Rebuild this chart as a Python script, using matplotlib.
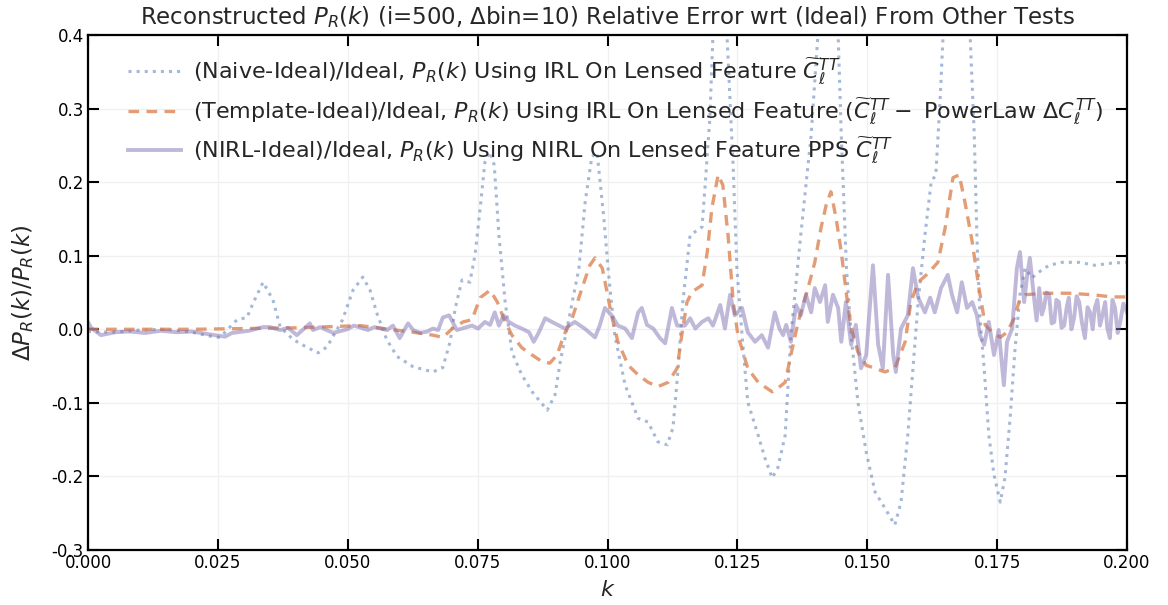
import matplotlib
matplotlib.use("Agg")
import matplotlib.pyplot as plt

# ---------------- data ----------------
naive_k = [0, 0.005, 0.010, 0.015, 0.020, 0.024, 0.0254, 0.0287, 0.0306, 0.0318, 0.0337, 0.0356, 0.037,
           0.0395, 0.042, 0.0443, 0.046, 0.049, 0.051, 0.0529, 0.0543, 0.0556, 0.0575, 0.0595, 0.0626,
           0.0664, 0.0683, 0.0697, 0.0707, 0.072, 0.0735, 0.0745, 0.0755, 0.0764, 0.0774, 0.0782, 0.0791,
           0.0803, 0.0816, 0.0835, 0.0855, 0.0884, 0.0899, 0.0909, 0.0926, 0.0945, 0.0957, 0.097, 0.098,
           0.0993, 0.1001, 0.1014, 0.1034, 0.1059, 0.1078, 0.1097, 0.1115, 0.1126, 0.1136, 0.1145, 0.1159,
           0.1182, 0.1188, 0.1197, 0.1203, 0.1217, 0.1230, 0.1242, 0.1249, 0.1259, 0.127, 0.129, 0.1303,
           0.1317, 0.1328, 0.1342, 0.1353, 0.1372, 0.1392, 0.1405, 0.1425, 0.1444, 0.145, 0.146, 0.1469,
           0.1482, 0.1498, 0.1515, 0.1534, 0.1553, 0.1565, 0.1578, 0.1588, 0.1598, 0.1611, 0.1623, 0.1632,
           0.164, 0.1646, 0.1672, 0.1698, 0.1706, 0.1711, 0.1717, 0.1725, 0.1734, 0.1744, 0.1756, 0.1765,
           0.1775, 0.1784, 0.1794, 0.1804, 0.1817, 0.1831, 0.185, 0.1875, 0.1908, 0.1938, 0.1971, 0.2]
naive_v = [-0.003, -0.004, -0.001, 0.0, -0.004, -0.010, -0.011, 0.013, 0.016, 0.036, 0.064, 0.040, 0.003,
           -0.014, -0.024, -0.032, -0.024, 0.013, 0.053, 0.071, 0.053, 0.022, -0.014, -0.037, -0.051,
           -0.058, -0.052, -0.017, 0.029, 0.067, 0.064, 0.101, 0.165, 0.227, 0.241, 0.223, 0.128,
           0.037, -0.031, -0.062, -0.085, -0.110, -0.089, -0.044, 0.015, 0.083, 0.173, 0.235, 0.240,
           0.151, 0.083, -0.008, -0.076, -0.121, -0.126, -0.153, -0.157, -0.134, -0.053, 0.037, 0.128,
           0.139, 0.196, 0.287, 0.400, 0.520, 0.400, 0.219, 0.083, -0.008, -0.099, -0.144, -0.175,
           -0.202, -0.188, -0.144, -0.008, 0.128, 0.264, 0.400, 0.550, 0.400, 0.264, 0.083, -0.008,
           -0.099, -0.167, -0.221, -0.243, -0.266, -0.235, -0.144, -0.053, 0.037, 0.128, 0.200, 0.210,
           0.309, 0.400, 0.560, 0.400, 0.264, 0.128, 0.015, -0.053, -0.144, -0.198, -0.235, -0.202,
           -0.121, -0.031, 0.047, 0.083, 0.070, 0.078, 0.087, 0.091, 0.091, 0.087, 0.090, 0.091]

templ_k = [0, 0.01, 0.02, 0.03, 0.04, 0.0524, 0.0626, 0.0664, 0.0683, 0.0703, 0.0722, 0.0739, 0.0755,
           0.0774, 0.0788, 0.080, 0.0816, 0.0835, 0.0855, 0.0874, 0.0889, 0.0903, 0.0916, 0.0932, 0.0951,
           0.0966, 0.0976, 0.099, 0.1009, 0.102, 0.104, 0.1059, 0.1078, 0.1097, 0.1117, 0.1134, 0.1143,
           0.1153, 0.1163, 0.1182, 0.1192, 0.1201, 0.1213, 0.1222, 0.1232, 0.1242, 0.1251, 0.127, 0.129,
           0.1317, 0.1328, 0.1342, 0.1353, 0.1367, 0.1386, 0.1399, 0.1411, 0.1421, 0.143, 0.144, 0.145,
           0.146, 0.1469, 0.1482, 0.1498, 0.1515, 0.1534, 0.1553, 0.1573, 0.1584, 0.1598, 0.1617, 0.1636,
           0.165, 0.1665, 0.1677, 0.1688, 0.1702, 0.1715, 0.1727, 0.174, 0.1756, 0.1769, 0.1783, 0.1792,
           0.1804, 0.1842, 0.1888, 0.1933, 0.1971, 0.2]
templ_v = [0.0, 0.0, 0.0, 0.001, 0.002, 0.005, -0.004, -0.008, -0.011, 0.002, 0.010, 0.013, 0.043,
           0.053, 0.037, 0.015, -0.008, -0.025, -0.035, -0.044, -0.046, -0.035, -0.008, 0.015, 0.056,
           0.087, 0.097, 0.083, 0.015, -0.017, -0.049, -0.062, -0.072, -0.078, -0.072, -0.053, -0.008,
           0.037, 0.051, 0.060, 0.105, 0.165, 0.210, 0.196, 0.128, 0.037, -0.008, -0.053, -0.072,
           -0.085, -0.080, -0.072, -0.035, 0.010, 0.056, 0.091, 0.138, 0.169, 0.187, 0.151, 0.105,
           0.047, 0.002, -0.031, -0.049, -0.053, -0.058, -0.053, -0.017, 0.037, 0.064, 0.076, 0.091,
           0.138, 0.206, 0.210, 0.173, 0.119, 0.056, 0.006, -0.004, -0.011, -0.004, 0.015, 0.037,
           0.047, 0.049, 0.049, 0.047, 0.044, 0.044]

nirl_k = [0.0000, 0.0006, 0.0025, 0.0052, 0.0080, 0.0110, 0.0140, 0.0170, 0.0200, 0.0244, 0.0264, 0.0277,
          0.0310, 0.0337, 0.0350, 0.0370, 0.0385, 0.0402, 0.0427, 0.0433, 0.0447, 0.0472, 0.0499, 0.0512,
          0.0539, 0.0551, 0.0576, 0.0587, 0.0600, 0.0616, 0.0626, 0.0640, 0.0653, 0.0664, 0.0674, 0.0683,
          0.0695, 0.0710, 0.0720, 0.0739, 0.0751, 0.0764, 0.0774, 0.0783, 0.0791, 0.0800, 0.0810, 0.0822,
          0.0835, 0.0849, 0.0858, 0.0868, 0.0880, 0.0893, 0.0907, 0.0918, 0.0937, 0.0956, 0.0976, 0.0985,
          0.0995, 0.1008, 0.1020, 0.1034, 0.1047, 0.1059, 0.1066, 0.1076, 0.1088, 0.1101, 0.1111, 0.1124,
          0.1134, 0.1149, 0.1159, 0.1169, 0.1182, 0.1194, 0.1203, 0.1217, 0.1226, 0.1236, 0.1245, 0.1259,
          0.1270, 0.1284, 0.1297, 0.1309, 0.1322, 0.1331, 0.1338, 0.1344, 0.1353, 0.1363, 0.1372, 0.1382,
          0.1392, 0.1399, 0.1409, 0.1419, 0.1424, 0.1434, 0.1444, 0.1450, 0.1459, 0.1469, 0.1478, 0.1488,
          0.1498, 0.1511, 0.1521, 0.1530, 0.1540, 0.1550, 0.1555, 0.1565, 0.1578, 0.1588, 0.1598, 0.1611,
          0.1621, 0.1630, 0.1642, 0.1655, 0.1663, 0.1673, 0.1682, 0.1692, 0.1702, 0.1711, 0.1717, 0.1725,
          0.1734, 0.1744, 0.1753, 0.1763, 0.1769, 0.1779, 0.1788, 0.1794, 0.1802, 0.1808, 0.1813, 0.1821,
          0.1826, 0.1831, 0.1836, 0.1840, 0.1845, 0.1850, 0.1855, 0.1860, 0.1864, 0.1869, 0.1874, 0.1879,
          0.1884, 0.1888, 0.1893, 0.1898, 0.1903, 0.1908, 0.1913, 0.1919, 0.1924, 0.1929, 0.1934, 0.1938,
          0.1943, 0.1948, 0.1953, 0.1958, 0.1962, 0.1967, 0.1972, 0.1977, 0.1982, 0.1987, 0.1993, 0.2000]
nirl_v = [0.010, 0.002, -0.008, -0.004, -0.003, -0.005, -0.002, -0.004, -0.003, -0.008, -0.010, -0.005,
          -0.002, 0.003, 0.003, -0.001, 0.002, -0.008, 0.008, -0.001, 0.003, -0.005, 0.000, 0.005,
          -0.001, 0.003, -0.001, 0.005, -0.012, 0.008, -0.001, -0.005, -0.003, 0.001, -0.001, 0.016,
          0.019, -0.001, 0.001, 0.005, 0.001, 0.010, 0.006, 0.023, 0.005, 0.019, 0.010, 0.005,
          0.001, -0.004, -0.017, -0.004, 0.015, 0.010, 0.005, 0.001, 0.010, 0.001, -0.011, 0.005,
          0.029, 0.019, 0.005, 0.001, -0.012, 0.023, 0.029, 0.006, 0.001, -0.012, -0.019, 0.029,
          0.005, 0.005, 0.015, 0.001, 0.010, 0.015, 0.005, 0.033, 0.001, 0.047, 0.019, 0.029,
          -0.004, -0.017, -0.008, -0.025, 0.023, 0.001, -0.008, 0.006, -0.017, 0.033, 0.019, 0.047,
          0.023, 0.056, 0.037, 0.060, 0.010, 0.047, 0.029, -0.017, 0.037, -0.021, 0.006, -0.053,
          -0.035, 0.087, -0.021, -0.053, 0.074, -0.035, -0.058, 0.001, 0.019, 0.083, 0.043, 0.023,
          0.043, 0.023, 0.056, 0.074, 0.047, 0.023, 0.064, 0.029, 0.037, 0.019, -0.008, -0.021,
          0.010, -0.035, -0.001, -0.076, -0.017, 0.001, 0.083, 0.105, 0.037, 0.074, 0.097, 0.043,
          0.012, 0.056, 0.020, 0.029, 0.050, 0.047, 0.008, 0.010, 0.040, 0.037, 0.002, 0.005,
          0.030, 0.043, 0.000, 0.015, 0.045, 0.037, 0.010, -0.012, 0.030, 0.023, 0.000, 0.029,
          0.040, 0.005, 0.020, 0.037, 0.002, -0.012, 0.040, 0.029, -0.005, 0.010, 0.035, 0.023]

x_ticks = [0.000, 0.025, 0.050, 0.075, 0.100, 0.125, 0.150, 0.175, 0.200]
y_ticks = [-0.3, -0.2, -0.1, 0.0, 0.1, 0.2, 0.3, 0.4]
y_ticklabels = ["-0.3", "-0.2", "-0.1", "0.0", "0.1", "0.2", "0.3", "0.4"]

labels = [
    r'(Naive-Ideal)/Ideal, $P_R(k)$ Using IRL On Lensed Feature $\widetilde{C}_\ell^{TT}$',
    r'(Template-Ideal)/Ideal, $P_R(k)$ Using IRL On Lensed Feature ($\widetilde{C}_\ell^{TT} -$ PowerLaw $\Delta C_\ell^{TT}$)',
    r'(NIRL-Ideal)/Ideal, $P_R(k)$ Using NIRL On Lensed Feature PPS $\widetilde{C}_\ell^{TT}$',
]
title = r'Reconstructed $P_R(k)$ (i=500, $\Delta$bin=10) Relative Error wrt (Ideal) From Other Tests'

# ---------------- plot ----------------
text_color = '#262626'
plt.rcParams['font.family'] = ['DejaVu Sans']
plt.rcParams['mathtext.fontset'] = 'dejavusans'

fig = plt.figure(figsize=(11.68, 6.05), dpi=100)
ax = fig.add_axes([88 / 1168, 1 - 550 / 605, (1127 - 88) / 1168, (550 - 35) / 605])

ax.plot(naive_k, naive_v, linestyle=':', color='#4C72B0', alpha=0.5, lw=2.2, label=labels[0])
ax.plot(templ_k, templ_v, linestyle='--', color='#DD8452', alpha=0.8, lw=2.4, dashes=(3.2, 2.2), label=labels[1])
ax.plot(nirl_k, nirl_v, linestyle='-', color='#8172B3', alpha=0.5, lw=2.8, label=labels[2])

ax.set_xlim(0, 0.2)
ax.set_ylim(-0.3, 0.4)
ax.set_xticks(x_ticks)
ax.set_xticklabels([f"{t:.3f}" for t in x_ticks])
ax.set_yticks(y_ticks)
ax.set_yticklabels(y_ticklabels)

ax.grid(True, color='#f0f0f0', lw=1.0)
ax.set_axisbelow(True)
for s in ax.spines.values():
    s.set_color('black')
    s.set_linewidth(1.6)
ax.tick_params(direction='in', length=8, width=1.5, top=True, right=True,
               labelsize=12, colors='black', labelcolor='black', pad=3)

ax.set_xlabel(r'$k$', fontsize=16, color=text_color, labelpad=6)
ax.set_ylabel(r'$\Delta P_R(k)/P_R(k)$', fontsize=16.5, color=text_color, labelpad=11)
ax.set_title(title, fontsize=16.5, color=text_color, pad=8)

leg = ax.legend(loc='upper left', frameon=False, fontsize=16, handlelength=2.4,
                labelspacing=0.42, borderaxespad=0.6, handletextpad=0.55,
                bbox_to_anchor=(0.017, 1.0))
for t in leg.get_texts():
    t.set_color(text_color)

fig.savefig('out.png', dpi=100)
